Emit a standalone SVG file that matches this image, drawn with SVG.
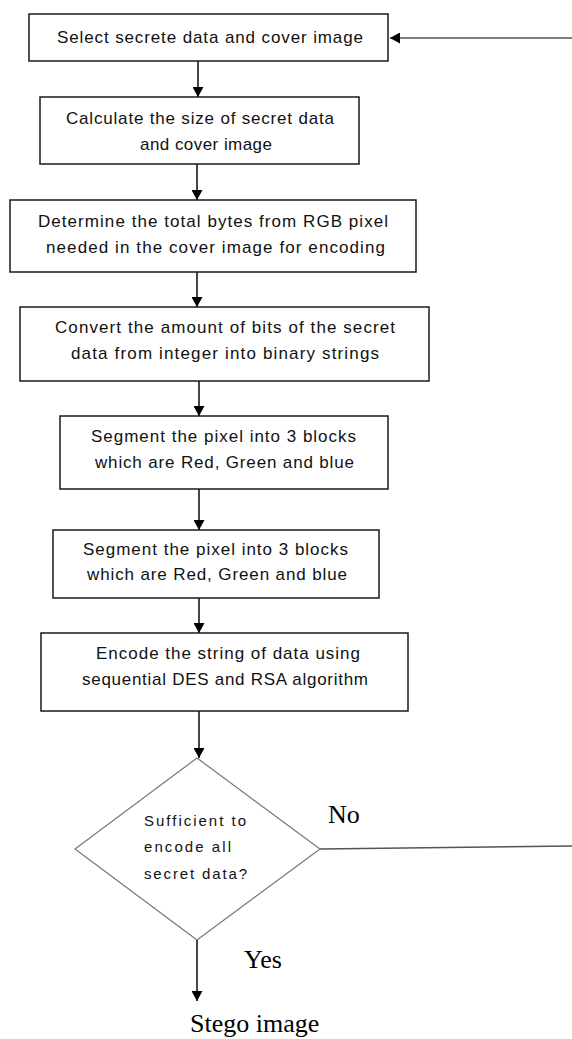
<svg xmlns="http://www.w3.org/2000/svg" width="572" height="1039" viewBox="0 0 572 1039">
<style>
  .box { fill: #fff; stroke: #1a1a1a; stroke-width: 1.5; }
  .dia { fill: #fff; stroke: #777; stroke-width: 1.2; }
  .t { font-family: "Liberation Sans", Arial, sans-serif; font-size: 17px; fill: #111; }
  .td { font-family: "Liberation Sans", Arial, sans-serif; font-size: 15px; fill: #111; }
  .lbl { font-family: "Liberation Serif", "Times New Roman", serif; font-size: 26px; fill: #000; }
  .c { fill: none; stroke: #333; stroke-width: 1.8; }
  .cg { fill: none; stroke: #555; stroke-width: 1.5; }
</style>
<defs>
  <marker id="ah" viewBox="0 0 10 11" refX="10" refY="5.5" markerWidth="10" markerHeight="11" markerUnits="userSpaceOnUse" orient="auto">
    <path d="M0,0 L10,5.5 L0,11 z" fill="#000"/>
  </marker>
</defs>
<rect width="572" height="1039" fill="#fff"/>

<g id="connectors">
  <path class="c" d="M198,61 L198,97" marker-end="url(#ah)"/>
  <path class="c" d="M197,164 L197,200" marker-end="url(#ah)"/>
  <path class="c" d="M197,272 L197,307" marker-end="url(#ah)"/>
  <path class="c" d="M199,381 L199,416" marker-end="url(#ah)"/>
  <path class="c" d="M199,489 L199,530" marker-end="url(#ah)"/>
  <path class="c" d="M199,598 L199,633" marker-end="url(#ah)"/>
  <path class="c" d="M199,711 L199,758" marker-end="url(#ah)"/>
  <path class="c" d="M197,940 L197,1001" marker-end="url(#ah)"/>
  <path class="cg" d="M320,849 L575,846 L575,38 L390,38" marker-end="url(#ah)"/>
</g>

<g id="n1">
  <rect class="box" x="29" y="14" width="359" height="47"/>
  <text class="t" x="57" y="43" textLength="306" lengthAdjust="spacing">Select secrete data and cover image</text>
</g>
<g id="n2">
  <rect class="box" x="40" y="97" width="319" height="67"/>
  <text class="t" x="66" y="124" textLength="268" lengthAdjust="spacing">Calculate the size of secret data</text>
  <text class="t" x="140" y="150" textLength="132" lengthAdjust="spacing">and cover image</text>
</g>
<g id="n3">
  <rect class="box" x="10" y="200" width="406" height="72"/>
  <text class="t" x="38" y="227" textLength="350" lengthAdjust="spacing">Determine the total bytes from RGB pixel</text>
  <text class="t" x="46" y="253" textLength="339" lengthAdjust="spacing">needed in the cover image for encoding</text>
</g>
<g id="n4">
  <rect class="box" x="20" y="307" width="409" height="74"/>
  <text class="t" x="55" y="333" textLength="340" lengthAdjust="spacing">Convert the amount of bits of the secret</text>
  <text class="t" x="71" y="359" textLength="308" lengthAdjust="spacing">data from integer into binary strings</text>
</g>
<g id="n5">
  <rect class="box" x="60" y="416" width="328" height="73"/>
  <text class="t" x="91" y="442" textLength="265" lengthAdjust="spacing">Segment the pixel into 3 blocks</text>
  <text class="t" x="95" y="468" textLength="259" lengthAdjust="spacing">which are Red, Green and blue</text>
</g>
<g id="n6">
  <rect class="box" x="53" y="530" width="326" height="68"/>
  <text class="t" x="83" y="555" textLength="265" lengthAdjust="spacing">Segment the pixel into 3 blocks</text>
  <text class="t" x="87" y="580" textLength="260" lengthAdjust="spacing">which are Red, Green and blue</text>
</g>
<g id="n7">
  <rect class="box" x="41" y="633" width="367" height="78"/>
  <text class="t" x="96" y="659" textLength="264" lengthAdjust="spacing">Encode the string of data using</text>
  <text class="t" x="82" y="685" textLength="286" lengthAdjust="spacing">sequential DES and RSA algorithm</text>
</g>
<g id="n8">
  <polygon class="dia" points="197,758 320,849 197,940 75,849"/>
  <text class="td" x="144" y="826" textLength="102" lengthAdjust="spacing">Sufficient to</text>
  <text class="td" x="144" y="852" textLength="87" lengthAdjust="spacing">encode all</text>
  <text class="td" x="144" y="879" textLength="103" lengthAdjust="spacing">secret data?</text>
</g>
<g id="labels">
  <text class="lbl" x="328" y="823">No</text>
  <text class="lbl" x="244" y="968">Yes</text>
</g>
<g id="n9">
  <text class="lbl" x="190" y="1032">Stego image</text>
</g>
</svg>
